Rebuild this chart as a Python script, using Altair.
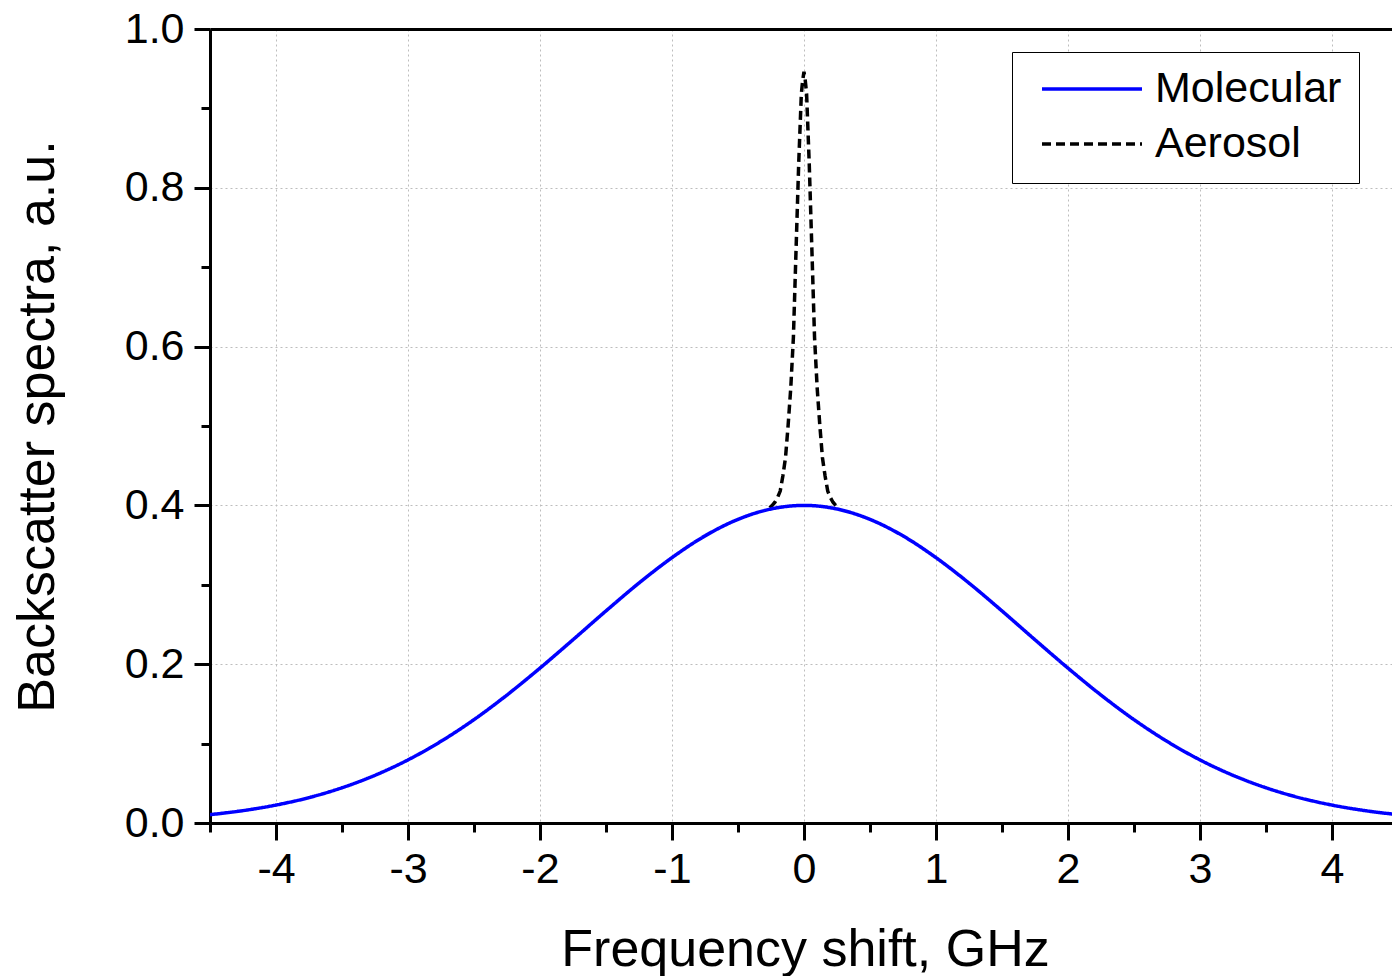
import altair as alt
import pandas as pd

# Molecular (broad) backscatter spectrum
mol_x = [-4.5, -4.25, -4.0, -3.75, -3.5, -3.25, -3.0, -2.75, -2.5, -2.25, -2.0, -1.75,
         -1.5, -1.25, -1.0, -0.75, -0.5, -0.25, 0.0, 0.25, 0.5, 0.75, 1.0, 1.25, 1.5,
         1.75, 2.0, 2.25, 2.5, 2.75, 3.0, 3.25, 3.5, 3.75, 4.0, 4.25, 4.5]
mol_y = [0.0105, 0.0156, 0.0226, 0.0320, 0.0444, 0.0601, 0.0795, 0.1029, 0.1302, 0.1612,
         0.1951, 0.2308, 0.2671, 0.3022, 0.3342, 0.3616, 0.3824, 0.3955, 0.400, 0.3955,
         0.3824, 0.3616, 0.3342, 0.3022, 0.2671, 0.2308, 0.1951, 0.1612, 0.1302, 0.1029,
         0.0795, 0.0601, 0.0444, 0.0320, 0.0226, 0.0156, 0.0105]

# Aerosol (narrow) spectrum on top of the molecular one
aer_x = [-0.26, -0.24, -0.22, -0.20, -0.18, -0.16, -0.14, -0.12, -0.10, -0.08, -0.06,
         -0.04, -0.02, -0.01, 0.0, 0.01, 0.02, 0.04, 0.06, 0.08, 0.10, 0.12, 0.14, 0.16,
         0.18, 0.20, 0.22, 0.24, 0.26]
aer_y = [0.397, 0.400, 0.404, 0.410, 0.418, 0.437, 0.460, 0.501, 0.548, 0.612, 0.722,
         0.830, 0.918, 0.935, 0.946, 0.935, 0.918, 0.830, 0.722, 0.612, 0.548, 0.501,
         0.460, 0.437, 0.418, 0.410, 0.404, 0.400, 0.397]

series_names = ["Molecular", "Aerosol"]
series_colors = ["#0000ff", "#000000"]
series_dash = [[1, 0], [9, 5]]

x_major = [-4, -3, -2, -1, 0, 1, 2, 3, 4]
x_minor = [-4.5, -3.5, -2.5, -1.5, -0.5, 0.5, 1.5, 2.5, 3.5]
y_major = [0.0, 0.2, 0.4, 0.6, 0.8, 1.0]
y_minor = [0.1, 0.3, 0.5, 0.7, 0.9]

mol = pd.DataFrame({"x": mol_x, "y": mol_y, "series": "Molecular"})
aer = pd.DataFrame({"x": aer_x, "y": aer_y, "series": "Aerosol"})

FONT = "Liberation Sans"
xscale = alt.Scale(domain=[-4.5, 4.455], nice=False, zero=False)
yscale = alt.Scale(domain=[0, 1.0], nice=False)


def make_legend():
    return alt.Legend(
        orient="none", legendX=802, legendY=23, title=None,
        symbolType="stroke", symbolSize=10000, symbolStrokeWidth=3.5,
        labelFont=FONT, labelFontSize=43, labelColor="black", labelLimit=400,
        strokeColor="black", fillColor="white", padding=17,
        symbolOffset=11, labelOffset=11, clipHeight=40, rowPadding=12,
        cornerRadius=0,
    )


color = alt.Color("series:N",
                  scale=alt.Scale(domain=series_names, range=series_colors),
                  legend=make_legend())
dash = alt.StrokeDash("series:N",
                      scale=alt.Scale(domain=series_names, range=series_dash),
                      legend=make_legend())

# Top frame line (axis domain only)
top = alt.Chart(mol).mark_line(strokeOpacity=0, clip=True).encode(
    x=alt.X("x:Q", scale=xscale, axis=alt.Axis(
        orient="top", labels=False, ticks=False, grid=False, title=None,
        domainColor="black", domainWidth=3)),
    y=alt.Y("y:Q", scale=yscale, axis=None),
)

aer_layer = alt.Chart(aer).mark_line(strokeWidth=3.5, clip=True).encode(
    x=alt.X("x:Q", scale=xscale, axis=alt.Axis(
        orient="bottom", values=x_major, labelExpr="'' + datum.value",
        labelFont=FONT, labelFontSize=43, labelColor="black", labelPadding=8,
        tickSize=17, tickWidth=3, tickColor="black",
        domainColor="black", domainWidth=3,
        grid=True, gridColor="#bdbdbd", gridDash=[2, 3], gridWidth=1,
        title="Frequency shift, GHz", titleFont=FONT, titleFontSize=52,
        titleFontWeight="normal", titleColor="black", titlePadding=33,
        titleX=595)),
    y=alt.Y("y:Q", scale=yscale, axis=alt.Axis(
        orient="left", values=y_major, format=".1f",
        labelFont=FONT, labelFontSize=43, labelColor="black", labelPadding=10,
        tickSize=16, tickWidth=3, tickColor="black",
        domainColor="black", domainWidth=3,
        grid=True, gridColor="#bdbdbd", gridDash=[2, 3], gridWidth=1,
        title="Backscatter spectra, a.u.", titleFont=FONT, titleFontSize=52,
        titleFontWeight="normal", titleColor="black", titlePadding=60)),
    color=color,
    strokeDash=dash,
)

mol_layer = alt.Chart(mol).mark_line(strokeWidth=3.5, clip=True,
                                     interpolate="monotone").encode(
    x=alt.X("x:Q", scale=xscale, axis=alt.Axis(
        orient="bottom", values=x_minor, labels=False, tickSize=9, tickWidth=3,
        tickColor="black", domain=False, grid=False, title=None)),
    y=alt.Y("y:Q", scale=yscale, axis=alt.Axis(
        orient="left", values=y_minor, labels=False, tickSize=9, tickWidth=3,
        tickColor="black", domain=False, grid=False, title=None)),
    color=color,
    strokeDash=dash,
)

chart = (
    alt.layer(top, aer_layer, mol_layer)
    .resolve_axis(x="independent", y="independent")
    .properties(
        width=1182, height=794,
        autosize=alt.AutoSizeParams(type="none"),
        padding={"left": 210, "top": 29, "right": 0, "bottom": 153},
        background="white",
    )
    .configure_view(stroke=None)
)

chart.save("out.html", embed_options={"renderer": "svg", "actions": False})
